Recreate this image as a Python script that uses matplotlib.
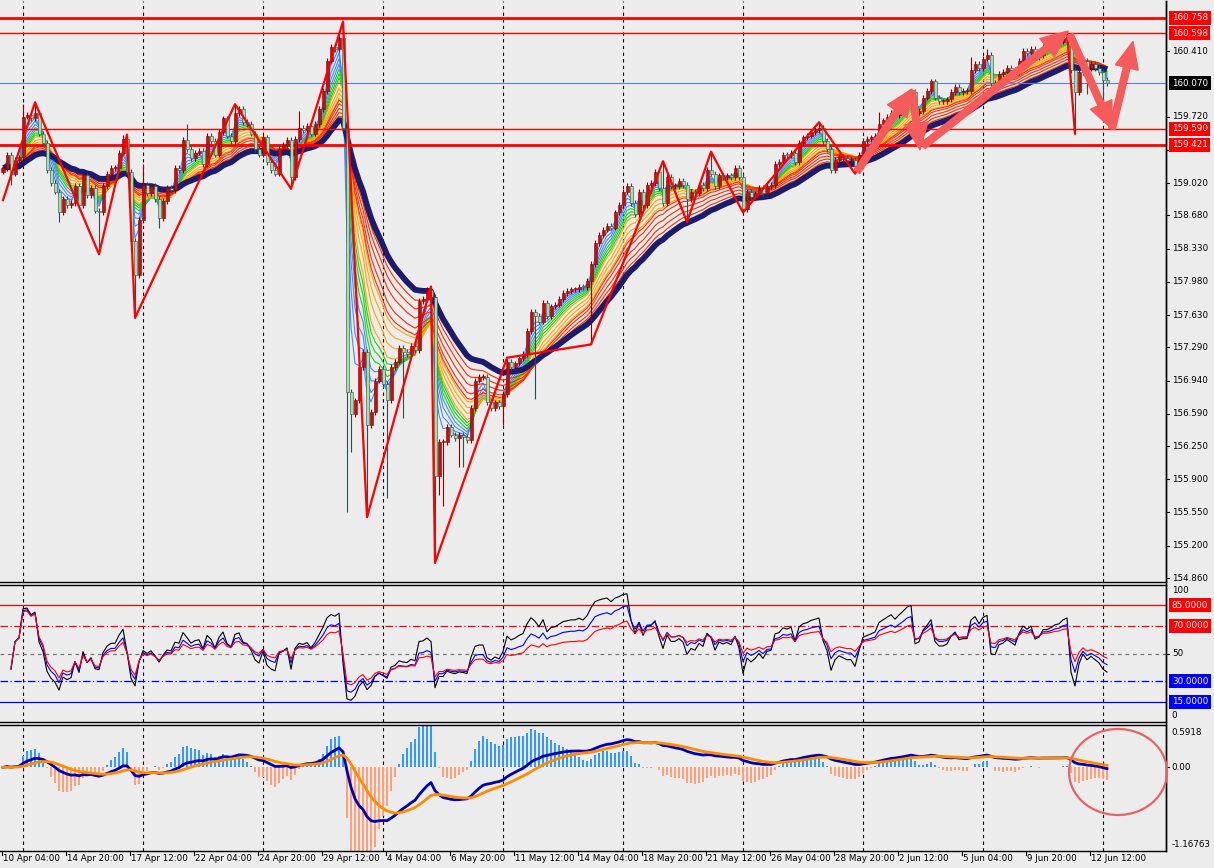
import numpy as np
import pandas as pd
import matplotlib
matplotlib.use("Agg")
import matplotlib.pyplot as plt
import matplotlib.transforms as mtrans
from matplotlib.patches import FancyArrowPatch, ArrowStyle, Ellipse

plt.rcParams['font.family'] = ['DejaVu Sans']

# ---------------- data (H4 closes) ----------------
OPEN0 = 159.14
CLOSES = [
    159.18, 159.32, 159.12, 159.26, 159.29, 159.72, 159.74, 159.70, 159.76, 159.54,
    159.44, 159.16, 159.02, 158.93, 158.71, 158.85, 158.79, 158.81, 158.99, 158.79,
    159.10, 158.89, 158.97, 158.73, 158.71, 158.99, 159.12, 159.18, 159.18, 159.34,
    159.48, 159.14, 158.41, 158.05, 158.63, 159.00, 158.91, 158.99, 158.85, 158.65,
    158.83, 158.97, 158.95, 159.18, 159.16, 159.47, 159.38, 159.28, 159.34, 159.36,
    159.22, 159.52, 159.46, 159.32, 159.56, 159.70, 159.52, 159.46, 159.76, 159.80,
    159.66, 159.64, 159.54, 159.38, 159.32, 159.50, 159.24, 159.16, 159.12, 159.38,
    159.42, 159.47, 159.08, 159.48, 159.60, 159.58, 159.62, 159.54, 159.64, 159.80,
    159.99, 160.31, 160.45, 160.43, 160.55, 159.60, 156.82, 156.59, 156.73, 157.08,
    157.24, 156.47, 156.61, 156.94, 157.06, 156.90, 156.73, 157.08, 157.14, 157.28,
    157.24, 157.22, 157.30, 157.26, 157.78, 157.80, 157.89, 157.82, 155.93, 156.29,
    156.29, 156.45, 156.37, 156.33, 156.37, 156.35, 156.31, 156.65, 156.94, 156.98,
    156.98, 156.71, 156.65, 156.71, 156.67, 156.80, 157.14, 157.08, 157.12, 157.18,
    157.22, 157.46, 157.66, 157.62, 157.56, 157.76, 157.62, 157.72, 157.74, 157.80,
    157.86, 157.88, 157.90, 157.90, 157.93, 157.92, 157.99, 158.17, 158.39, 158.47,
    158.53, 158.57, 158.55, 158.71, 158.79, 158.93, 158.99, 158.81, 158.69, 158.93,
    158.79, 159.00, 159.02, 159.14, 158.97, 158.81, 159.08, 158.99, 158.99, 159.04,
    159.00, 158.85, 158.93, 158.91, 159.00, 158.97, 159.16, 159.12, 158.99, 159.10,
    159.08, 159.10, 159.08, 159.18, 159.08, 158.75, 158.93, 158.87, 158.91, 158.97,
    158.91, 158.99, 159.00, 159.22, 159.24, 159.32, 159.31, 159.34, 159.24, 159.44,
    159.50, 159.52, 159.56, 159.58, 159.60, 159.46, 159.38, 159.16, 159.26, 159.30,
    159.28, 159.26, 159.26, 159.20, 159.32, 159.46, 159.48, 159.50, 159.52, 159.64,
    159.68, 159.72, 159.76, 159.74, 159.80, 159.86, 159.94, 159.98, 159.76, 159.78,
    159.92, 159.99, 160.09, 159.92, 159.88, 159.88, 159.90, 159.98, 160.03, 159.98,
    159.99, 159.99, 160.21, 160.27, 160.23, 160.33, 160.37, 160.07, 160.06, 160.17,
    160.19, 160.23, 160.21, 160.19, 160.31, 160.41, 160.39, 160.43, 160.35, 160.37,
    160.45, 160.45, 160.47, 160.50, 160.51, 160.55, 160.57, 160.21, 159.98, 160.19,
    160.31, 160.23, 160.27, 160.23, 160.19, 160.11, 160.07,
]
# notable wick extremes (bar index -> price)
HIGH_WICKS = {5: 159.85, 8: 159.87, 30: 159.53, 35: 159.22, 46: 159.64, 58: 159.85,
              74: 159.78, 85: 160.72, 107: 157.93, 165: 159.25, 177: 159.35,
              204: 159.66, 219: 159.77, 227: 160.00, 242: 160.35, 246: 160.43, 266: 160.61}
LOW_WICKS = {2: 159.00, 14: 158.61, 24: 158.27, 33: 157.60, 39: 158.55, 72: 158.96,
             86: 155.56, 87: 156.19, 91: 155.50, 96: 155.70, 100: 156.55, 108: 155.02,
             109: 155.73, 110: 155.62, 114: 156.03, 115: 156.03, 125: 156.47, 133: 156.75,
             147: 157.32, 171: 158.61, 185: 158.71, 213: 159.12, 268: 159.54,
             271: 159.96, 275: 159.86}

ZZ_BARS = [0, 8, 24, 31, 33, 58, 72, 85, 91, 107, 108, 126, 147, 165, 171, 177, 185,
           204, 213, 227, 230, 266, 268]
ZZ_PRICES = [158.84, 159.87, 158.27, 159.53, 157.60, 159.85, 158.96, 160.72, 155.50,
             157.93, 155.02, 157.18, 157.32, 159.25, 158.61, 159.35, 158.71, 159.66,
             159.12, 160.00, 159.45, 160.61, 159.54]

LEVELS = [160.758, 160.598, 160.070, 159.590, 159.421]
MAIN_TICKS = [160.410, 159.720, 159.370, 159.020, 158.680, 158.330, 157.980, 157.630,
              157.290, 156.940, 156.590, 156.250, 155.900, 155.550, 155.200, 154.860]

ARROW_STARTS = [(213.5, 159.14), (227.25, 159.99), (230.0, 159.41), (266.75, 160.58), (277.25, 159.59)]
ARROW_ENDS = [(227.25, 160.01), (229.25, 159.37), (266.25, 160.62), (277.25, 159.59), (282.5, 160.51)]

DATE_BARS = list(range(0, 273, 16))
DATE_LABELS = ["10 Apr 04:00", "14 Apr 20:00", "17 Apr 12:00", "22 Apr 04:00",
               "24 Apr 20:00", "29 Apr 12:00", "4 May 04:00", "6 May 20:00",
               "11 May 12:00", "14 May 04:00", "18 May 20:00", "21 May 12:00",
               "26 May 04:00", "28 May 20:00", "2 Jun 12:00", "5 Jun 04:00",
               "9 Jun 20:00", "12 Jun 12:00"]
GRID_BARS = list(range(5, 280, 30))

RIBBON_PERIODS = [3, 4, 5, 6, 7, 8, 9, 10, 12, 14, 16, 17, 19, 22, 25, 28]
SLOW_PERIOD = 32
RSI_PERIODS = [9, 14, 21]

# ---------------- computations ----------------
c = np.array(CLOSES)
N = len(c)
xb = np.arange(N)
o = np.r_[OPEN0, c[:-1]]
WICK = 0.03
hi = np.maximum(o, c) + WICK
lo = np.minimum(o, c) - WICK
for k, v in HIGH_WICKS.items():
    hi[k] = max(hi[k], v)
for k, v in LOW_WICKS.items():
    lo[k] = min(lo[k], v)
s = pd.Series(c)


def ema(p):
    return s.ewm(span=p, adjust=False).mean().values


def rsi(n):
    d = s.diff()
    up = d.clip(lower=0).ewm(alpha=1 / n, adjust=True).mean()
    dn = (-d.clip(upper=0)).ewm(alpha=1 / n, adjust=True).mean()
    r = (100 - 100 / (1 + up / dn)).values
    r[:2] = np.nan
    return r


macd = ema(12) - ema(26)
signal = pd.Series(macd).ewm(span=9, adjust=False).mean().values
hist = 4.0 * (macd - signal)

# ---------------- figure ----------------
BG = '#ECECEC'
W, H = 1214, 868
fig = plt.figure(figsize=(W / 100, H / 100), dpi=100, facecolor=BG)
RX = 1166 / W


def fa(top, bot):
    return [0, 1 - bot / H, RX, (bot - top) / H]


ax = fig.add_axes(fa(1, 582))
axr = fig.add_axes(fa(585, 722))
axm = fig.add_axes(fa(725, 851))
XL = (-0.75, 290.75)
FS = 6.3
for a in (ax, axr, axm):
    a.set_facecolor(BG)
    a.set_xlim(*XL)
    a.set_xticks([])
    a.set_yticks([])
    for sp in a.spines.values():
        sp.set_color('black')
        sp.set_linewidth(1.0)
    a.spines['left'].set_visible(False)
    for g in GRID_BARS:
        a.axvline(g, color='black', lw=0.8, ls=(0, (3, 3)), zorder=1)
ax.spines['top'].set_visible(False)

ax.set_ylim(154.818, 160.937)
axr.set_ylim(0.5, 99.5)
axm.set_ylim(-1.16763, 0.5918)

# ribbon
cols = ['#3F8CFF'] * 4 + ['#19D219'] * 3 + ['#FFA500'] * 4 + ['#FF2A00'] * 5
for p, col in zip(RIBBON_PERIODS, cols):
    ax.plot(xb, ema(p), color=col, lw=0.8, zorder=2)
ax.plot(xb, ema(SLOW_PERIOD), color='#1C1C6E', lw=4.2, zorder=2.5, solid_capstyle='butt')

# horizontal levels
lv_style = [('#FF0000', 2.0), ('#FF0000', 1.0), ('#5A7FE0', 0.8), ('#FF0000', 1.0), ('#FF0000', 2.0)]
for v, (col, lw) in zip(LEVELS, lv_style):
    ax.axhline(v, color=col, lw=lw, zorder=2.6)

# candles
up = c >= o
dn = ~up
body_lo = np.minimum(o, c)
body_h = np.maximum(np.abs(c - o), 0.012)
ax.vlines(xb[up], lo[up], hi[up], color='#8B0000', lw=0.8, zorder=3)
ax.vlines(xb[dn], lo[dn], hi[dn], color='#2F4F4F', lw=0.8, zorder=3)
ax.bar(xb[up], body_h[up], bottom=body_lo[up], width=0.75, color='#C01010',
       edgecolor='#8B0000', lw=0.4, zorder=4)
ax.bar(xb[dn], body_h[dn], bottom=body_lo[dn], width=0.75, color='#A8DCA8',
       edgecolor='#2F4F4F', lw=0.4, zorder=4)

# zigzag
ax.plot(ZZ_BARS, ZZ_PRICES, color='#FF0000', lw=1.6, zorder=5)

# arrows
for (a0, a1) in zip(ARROW_STARTS, ARROW_ENDS):
    arr = FancyArrowPatch(a0, a1, arrowstyle=ArrowStyle('simple', head_length=1.6,
                          head_width=1.4, tail_width=0.4), mutation_scale=12,
                          color='#F65A5A', shrinkA=0, shrinkB=0, zorder=6, clip_on=False)
    ax.add_patch(arr)

# ---- right axis labels ----
def rlabel(a, v, txt, box=None, tick=True):
    tr = mtrans.blended_transform_factory(a.transAxes, a.transData)
    kw = dict(transform=tr, ha='left', va='center', fontsize=FS, clip_on=False, zorder=10)
    if box is not None:
        a.text(1.005, v, txt, color='white',
               bbox=dict(boxstyle='square,pad=0.3', fc=box, ec='none'), **kw)
    else:
        a.text(1.005, v, txt, color='black', **kw)
    if tick:
        a.plot([1.0, 1.003], [v, v], transform=tr, color='black', lw=0.8, clip_on=False)


for v in MAIN_TICKS:
    rlabel(ax, v, f"{v:.3f}")
for v in LEVELS:
    rlabel(ax, v, f"{v:.3f}", box='#000000' if abs(v - 160.070) < 1e-6 else '#FF0000', tick=False)

# ---- RSI panel ----
rcols = ['black', '#0000FF', '#FF0000']
for p, col in zip(RSI_PERIODS, rcols):
    axr.plot(xb, rsi(p), color=col, lw=0.8, zorder=3)
axr.axhline(85, color='#FF0000', lw=0.9, zorder=2)
axr.axhline(70, color='#FF0000', lw=0.9, ls=(0, (6, 2, 1, 2)), zorder=2)
axr.axhline(50, color='#777777', lw=0.9, ls=(0, (3, 3)), zorder=2)
axr.axhline(30, color='#0000FF', lw=0.9, ls=(0, (6, 2, 1, 2)), zorder=2)
axr.axhline(15, color='#0000FF', lw=0.9, zorder=2)
rlabel(axr, 95.5, "100", tick=False)
rlabel(axr, 85, "85.0000", box='#FF0000', tick=False)
rlabel(axr, 70, "70.0000", box='#FF0000', tick=False)
rlabel(axr, 50, "50")
rlabel(axr, 30, "30.0000", box='#0000FF', tick=False)
rlabel(axr, 15, "15.0000", box='#0000FF', tick=False)
rlabel(axr, 5, "0", tick=False)

# ---- MACD panel ----
hcol = np.where(hist >= 0, '#3399FF', '#FFA07A')
axm.bar(xb, hist, width=0.65, color=hcol, zorder=2)
axm.plot(xb, macd, color='#0000B4', lw=2.0, zorder=3)
axm.plot(xb, signal, color='#FF8C00', lw=2.0, zorder=3)
rlabel(axm, 0.49, "0.5918", tick=False)
rlabel(axm, 0.0, "0.00")
rlabel(axm, -1.07, "-1.16763", tick=False)

# ---- date axis ----
trd = mtrans.blended_transform_factory(axm.transData, axm.transAxes)
for b, lab in zip(DATE_BARS, DATE_LABELS):
    axm.plot([b - 0.25, b - 0.25], [0, -0.035], transform=trd, color='black', lw=0.8, clip_on=False)
    axm.text(b + 0.1, -0.058, lab, transform=trd, ha='left', va='center', fontsize=FS, clip_on=False)

# right border line down to the bottom
fig.add_artist(plt.Line2D([RX, RX], [1 - 851 / H, 1 - 1 / H], transform=fig.transFigure,
                          color='black', lw=1.0))

# ellipse annotation
ell = Ellipse((1118 / W, 1 - 772 / H), 98 / W, 86 / H, transform=fig.transFigure,
              fill=False, ec='#E86464', lw=1.6, zorder=20)
fig.add_artist(ell)

fig.savefig('out.png', dpi=100, facecolor=BG)
